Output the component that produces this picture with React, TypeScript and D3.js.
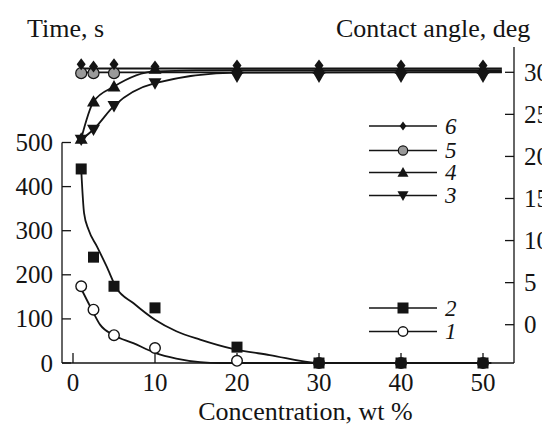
import React from 'react'
import * as d3 from 'd3'

// measured points
const conc = [1, 2.5, 5, 10, 20, 30, 40, 50]
const time1 = [174, 121, 63, 34, 5, 0, 0, 0]
const time2 = [440, 240, 174, 125, 36, 0, 0, 0]
const angle3 = [22.0, 23.2, 26.0, 28.7, 29.5, 29.5, 29.5, 29.5]
const angle4 = [22.1, 26.5, 28.3, 30.4, 30.4, 30.4, 30.4, 30.4]
const conc5 = [1, 2.5, 5]
const angle5 = [29.9, 29.9, 29.9]
const angle6 = [30.95, 30.7, 30.95, 30.7, 30.8, 30.8, 30.8, 30.8]

// fitted curves as they appear in the figure
const fitConc1 = [0.85, 2.3, 3.3, 5, 7.35, 10, 12.6, 15.5, 18, 51]
const fitTime1 = [174, 121, 87, 63, 45, 23, 10, 2, 0, 0]
const fitConc2 = [1, 1.35, 1.9, 2.9, 4.1, 5.3, 7.35, 10, 12.6, 15.5, 19.5, 24, 30, 51]
const fitTime2 = [440, 340, 302, 265, 219, 170, 136, 98, 72, 53, 32, 18, 0, 0]
const fitConc3 = [1, 2.5, 5, 10, 20, 52.3]
const fitAngle3 = [22.0, 23.2, 26.0, 28.7, 29.95, 30.05]
const fitConc4 = [1, 2.5, 5, 10, 20, 52.3]
const fitAngle4 = [22.1, 26.5, 28.3, 30.1, 30.25, 30.25]
const fitConc5 = [1, 52.3]
const fitAngle5 = [30.0, 30.0]
const fitConc6 = [1, 52.3]
const fitAngle6 = [30.45, 30.45]

const xTicks = [0, 10, 20, 30, 40, 50]
const timeTicks = [0, 100, 200, 300, 400, 500]
const angleTicks = [0, 5, 10, 15, 20, 25, 30]

const W = 542
const H = 426
const frame = { left: 62, right: 514, top: 47, bottom: 363 }
const ink = '#141414'
const font = '"Liberation Serif", "Times New Roman", serif'

const x = d3.scaleLinear().domain([0, 50]).range([73, 483])
const yTime = d3.scaleLinear().domain([0, 500]).range([363, 142.5])
const yAngle = d3.scaleLinear().domain([0, 30]).range([324.7, 72.3])

const zip = (xs: number[], ys: number[]) => xs.map((v, i) => [v, ys[i]] as [number, number])

function Marker({ kind, cx, cy, s = 1 }: { kind: string; cx: number; cy: number; s?: number }) {
  if (kind === 'square') {
    const a = 11 * s
    return <rect x={cx - a / 2} y={cy - a / 2} width={a} height={a} fill={ink} />
  }
  if (kind === 'circle') {
    return <circle cx={cx} cy={cy} r={5.3 * s} fill="#fff" stroke={ink} strokeWidth={1.4} />
  }
  if (kind === 'grey') {
    return <circle cx={cx} cy={cy} r={5.5 * s} fill="#9a9a9a" stroke={ink} strokeWidth={1.2} />
  }
  if (kind === 'up') {
    const a = 6.5 * s
    return <path d={`M${cx},${cy - a}L${cx + a},${cy + a * 0.75}L${cx - a},${cy + a * 0.75}Z`} fill={ink} />
  }
  if (kind === 'down') {
    const a = 6.5 * s
    return <path d={`M${cx},${cy + a}L${cx + a},${cy - a * 0.75}L${cx - a},${cy - a * 0.75}Z`} fill={ink} />
  }
  // diamond
  const w = 4.5 * s
  const h = 6 * s
  return <path d={`M${cx},${cy - h}L${cx + w},${cy}L${cx},${cy + h}L${cx - w},${cy}Z`} fill={ink} />
}

export default function App() {
  const timeLine = d3.line<[number, number]>().x(d => x(d[0])).y(d => yTime(d[1])).curve(d3.curveMonotoneX)
  const angleLine = d3.line<[number, number]>().x(d => x(d[0])).y(d => yAngle(d[1])).curve(d3.curveMonotoneX)

  const fits = [
    timeLine(zip(fitConc1, fitTime1)),
    timeLine(zip(fitConc2, fitTime2)),
    angleLine(zip(fitConc3, fitAngle3)),
    angleLine(zip(fitConc4, fitAngle4)),
    angleLine(zip(fitConc5, fitAngle5)),
    angleLine(zip(fitConc6, fitAngle6)),
  ]

  const points = [
    { kind: 'circle', pts: zip(conc, time1).map(d => [x(d[0]), yTime(d[1])]) },
    { kind: 'square', pts: zip(conc, time2).map(d => [x(d[0]), yTime(d[1])]) },
    { kind: 'down', pts: zip(conc, angle3).map(d => [x(d[0]), yAngle(d[1])]) },
    { kind: 'up', pts: zip(conc, angle4).map(d => [x(d[0]), yAngle(d[1])]) },
    { kind: 'grey', pts: zip(conc5, angle5).map(d => [x(d[0]), yAngle(d[1])]) },
    { kind: 'diamond', pts: zip(conc, angle6).map(d => [x(d[0]), yAngle(d[1])]) },
  ]

  const legendTop = [
    { label: '6', kind: 'diamond', y: 126, s: 0.75 },
    { label: '5', kind: 'grey', y: 150.5, s: 0.85 },
    { label: '4', kind: 'up', y: 172.5, s: 0.85 },
    { label: '3', kind: 'down', y: 195.5, s: 0.85 },
    { label: '2', kind: 'square', y: 308, s: 1 },
    { label: '1', kind: 'circle', y: 331.5, s: 0.9 },
  ]

  return (
    <div style={{ position: 'absolute', left: 0, top: 0 }}>
      <svg width={W} height={H} style={{ display: 'block', background: '#fff' }} fontFamily={font}>
        {/* frame */}
        <g stroke={ink} strokeWidth={1.3} fill="none">
          <line x1={frame.left} x2={frame.right} y1={frame.bottom} y2={frame.bottom} />
          <line x1={frame.left} x2={frame.left} y1={yTime(500)} y2={frame.bottom} />
          <line x1={frame.right} x2={frame.right} y1={frame.top} y2={frame.bottom} />
        </g>

        {/* x axis */}
        {xTicks.map(t => (
          <g key={'x' + t}>
            <line x1={x(t)} x2={x(t)} y1={frame.bottom} y2={frame.bottom - 10} stroke={ink} strokeWidth={1.3} />
            <text x={x(t)} y={391} textAnchor="middle" fontSize={25} fill={ink}>{t}</text>
          </g>
        ))}
        <text x={305.5} y={420} textAnchor="middle" fontSize={26} fill={ink}>Concentration, wt %</text>

        {/* left axis */}
        {timeTicks.map(t => (
          <g key={'l' + t}>
            <line x1={frame.left} x2={frame.left + 9} y1={yTime(t)} y2={yTime(t)} stroke={ink} strokeWidth={1.3} />
            <text x={53} y={yTime(t) + 8.5} textAnchor="end" fontSize={25} fill={ink}>{t}</text>
          </g>
        ))}
        <text x={27} y={37} fontSize={26} fill={ink}>Time, s</text>

        {/* right axis */}
        {angleTicks.map(t => (
          <g key={'r' + t}>
            <line x1={frame.right - 9} x2={frame.right} y1={yAngle(t)} y2={yAngle(t)} stroke={ink} strokeWidth={1.3} />
            <text x={524} y={yAngle(t) + 8.5} fontSize={25} fill={ink}>{t}</text>
          </g>
        ))}
        <text x={336} y={37} fontSize={26} fill={ink}>Contact angle, deg</text>

        {/* fitted curves */}
        <g fill="none" stroke={ink} strokeWidth={1.8}>
          {fits.map((d, i) => <path key={'f' + i} d={d ?? ''} />)}
        </g>

        {/* data markers */}
        {points.map((s, i) => (
          <g key={'s' + i}>
            {s.pts.map((p, j) => <Marker key={j} kind={s.kind} cx={p[0]} cy={p[1]} />)}
          </g>
        ))}

        {/* legend */}
        {legendTop.map(l => (
          <g key={'lg' + l.label}>
            <line x1={369} x2={437} y1={l.y} y2={l.y} stroke={ink} strokeWidth={1.6} />
            <Marker kind={l.kind} cx={403} cy={l.y} s={l.s} />
            <text x={445} y={l.y + 7.5} fontSize={23} fontStyle="italic" fill={ink}>{l.label}</text>
          </g>
        ))}
      </svg>
    </div>
  )
}
